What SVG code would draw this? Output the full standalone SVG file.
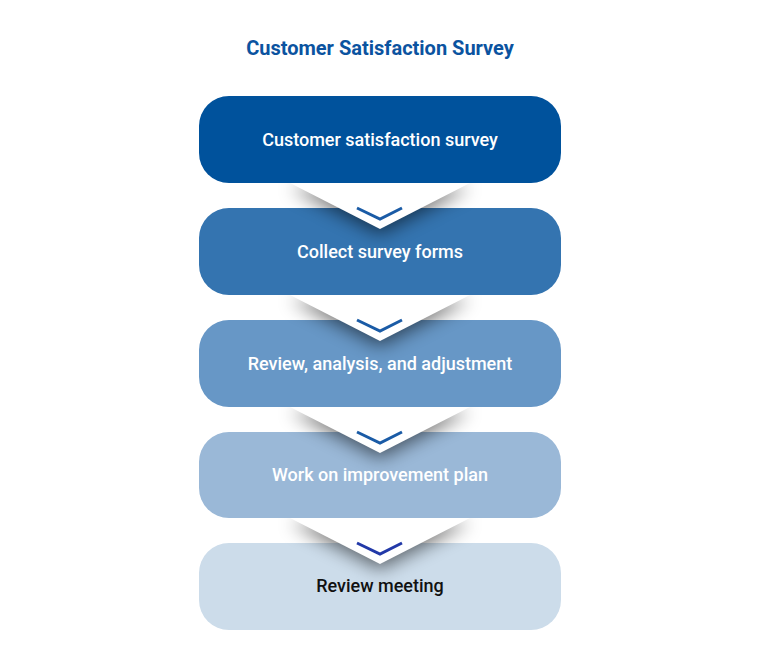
<svg xmlns="http://www.w3.org/2000/svg" width="760" height="666" viewBox="0 0 760 666">
<style>
.lbl{font-family:Roboto,"Liberation Sans",sans-serif;font-size:18px;font-weight:500;text-anchor:middle;fill:#fff}
.title{font-family:Roboto,"Liberation Sans",sans-serif;font-size:20px;font-weight:700;text-anchor:middle;fill:#0b53a0}
.chev{fill:none;stroke:#1a5ba6;stroke-width:3;stroke-linecap:butt;stroke-linejoin:miter}
</style>
<defs>
<filter id="sh" x="-50%" y="-50%" width="200%" height="200%">
<feGaussianBlur stdDeviation="9"/>
</filter>
<path id="tri" d="M-90,0 L90,0 L0,46 Z"/>
<clipPath id="below"><rect x="-380" y="0" width="760" height="120"/></clipPath>
</defs>
<rect width="760" height="666" fill="#fff"/>
<text class="title" x="380" y="55">Customer Satisfaction Survey</text>
<g id="n1"><rect x="199" y="96" width="362" height="87" rx="30" fill="#00529c"/><text class="lbl" x="380" y="146">Customer satisfaction survey</text></g>
<g id="n2"><rect x="199" y="208" width="362" height="87" rx="30" fill="#3474b0"/><text class="lbl" x="380" y="258">Collect survey forms</text></g>
<g id="n3"><rect x="199" y="320" width="362" height="87" rx="30" fill="#6797c6"/><text class="lbl" x="380" y="370">Review, analysis, and adjustment</text></g>
<g id="n4"><rect x="199" y="432" width="362" height="86" rx="30" fill="#9ab8d7"/><text class="lbl" x="380" y="481">Work on improvement plan</text></g>
<g id="n5"><rect x="199" y="543" width="362" height="87" rx="30" fill="#ccdcea"/><text class="lbl" x="380" y="592" style="fill:#111">Review meeting</text></g>
<g id="connectors">
<g transform="translate(380,183)"><g clip-path="url(#below)"><use href="#tri" fill="#000" opacity="0.55" filter="url(#sh)" transform="translate(0,5)"/></g><use href="#tri" fill="#fff"/><path class="chev" d="M-23,25 L0,36 L22,25"/></g>
<g transform="translate(380,295)"><g clip-path="url(#below)"><use href="#tri" fill="#000" opacity="0.55" filter="url(#sh)" transform="translate(0,5)"/></g><use href="#tri" fill="#fff"/><path class="chev" d="M-23,25 L0,36 L22,25"/></g>
<g transform="translate(380,407)"><g clip-path="url(#below)"><use href="#tri" fill="#000" opacity="0.55" filter="url(#sh)" transform="translate(0,5)"/></g><use href="#tri" fill="#fff"/><path class="chev" d="M-23,25 L0,36 L22,25"/></g>
<g transform="translate(380,518)"><g clip-path="url(#below)"><use href="#tri" fill="#000" opacity="0.55" filter="url(#sh)" transform="translate(0,5)"/></g><use href="#tri" fill="#fff"/><path class="chev" d="M-23,25 L0,36 L22,25" style="stroke:#2239a8"/></g>
</g>
</svg>
